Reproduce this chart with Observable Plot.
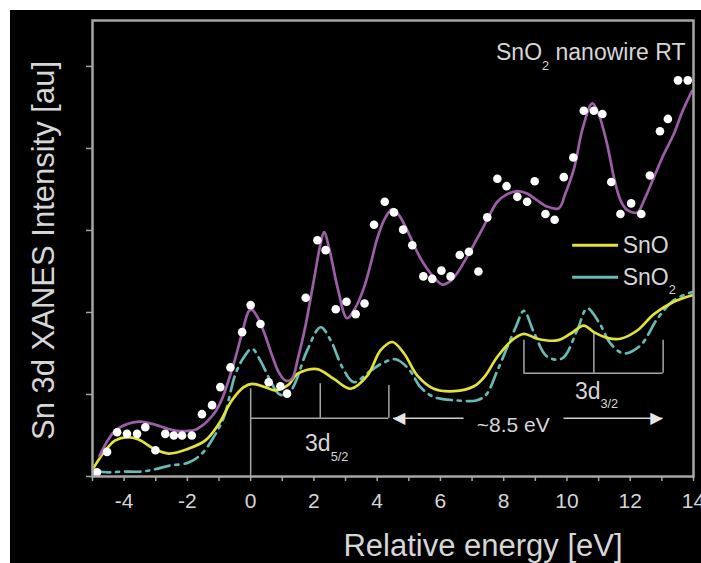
<!DOCTYPE html>
<html>
<head>
<meta charset="utf-8">
<script src="https://cdn.jsdelivr.net/npm/d3@7"></script>
<script src="https://cdn.jsdelivr.net/npm/@observablehq/plot@0.6"></script>
<style>
  html, body { margin: 0; padding: 0; background: #fff; overflow: hidden; }
  #chart { position: absolute; left: 10px; top: 10px; width: 691px; height: 553px; background: #000; }
</style>
</head>
<body>
<div id="chart"></div>
<script>
// ---- data ----
const fitCurve = [[-4.78,0.25],[-4.5,0.45],[-4.28,0.56],[-3.9,0.64],[-3.54,0.67],[-3.2,0.65],[-3.0,0.63],[-2.6,0.58],[-2.38,0.56],[-2.0,0.555],[-1.75,0.57],[-1.5,0.63],[-1.33,0.69],[-1.1,0.8],[-0.91,0.94],[-0.7,1.17],[-0.48,1.45],[-0.25,1.78],[-0.05,2.02],[0.05,2.03],[0.25,1.92],[0.46,1.72],[0.7,1.45],[0.89,1.27],[1.1,1.17],[1.3,1.19],[1.5,1.45],[1.74,1.85],[2.0,2.4],[2.2,2.82],[2.32,2.98],[2.5,2.75],[2.75,2.3],[3.05,1.93],[3.3,2.05],[3.58,2.3],[3.8,2.6],[4.0,2.9],[4.25,3.15],[4.48,3.26],[4.7,3.18],[4.95,3.0],[5.37,2.66],[5.79,2.43],[6.06,2.34],[6.3,2.38],[6.53,2.48],[6.8,2.65],[7.06,2.83],[7.3,3.0],[7.53,3.17],[7.8,3.35],[8.1,3.44],[8.43,3.48],[8.74,3.45],[9.05,3.37],[9.38,3.29],[9.74,3.27],[9.95,3.45],[10.22,3.75],[10.5,4.25],[10.8,4.55],[11.0,4.42],[11.27,4.05],[11.5,3.62],[11.69,3.37],[11.9,3.25],[12.22,3.22],[12.45,3.38],[12.75,3.65],[13.05,3.92],[13.38,4.18],[13.65,4.45],[13.95,4.7]];

const nanowireDots = [[-4.86,0.05],[-4.54,0.3],[-4.22,0.54],[-3.91,0.52],[-3.59,0.52],[-3.33,0.6],[-3.01,0.32],[-2.7,0.52],[-2.43,0.5],[-2.17,0.5],[-1.86,0.5],[-1.54,0.76],[-1.22,0.87],[-0.96,1.09],[-0.64,1.33],[-0.27,1.76],[0.0,2.09],[0.31,1.86],[0.57,1.15],[0.94,1.1],[1.15,1.01],[1.74,2.18],[2.11,2.88],[2.37,2.76],[2.69,2.04],[3.03,2.13],[3.32,1.98],[3.6,2.11],[3.9,3.07],[4.24,3.35],[4.53,3.22],[4.82,3.01],[5.11,2.82],[5.46,2.44],[5.74,2.41],[6.03,2.51],[6.32,2.44],[6.61,2.7],[6.9,2.74],[7.2,2.5],[7.48,3.16],[7.8,3.63],[8.09,3.54],[8.43,3.41],[8.74,3.35],[8.98,3.6],[9.32,3.2],[9.61,3.13],[9.9,3.65],[10.2,3.89],[10.53,4.46],[10.85,4.46],[11.12,4.42],[11.4,3.59],[11.69,3.2],[12.03,3.33],[12.35,3.2],[12.62,3.67],[12.94,4.21],[13.19,4.36],[13.51,4.83],[13.82,4.83]];

const snoCurve = [[-4.96,0.11],[-4.59,0.32],[-4.28,0.44],[-3.91,0.48],[-3.54,0.45],[-3.07,0.34],[-2.59,0.28],[-1.96,0.34],[-1.43,0.44],[-1.01,0.64],[-0.59,0.93],[-0.22,1.09],[0.04,1.13],[0.46,1.09],[0.78,1.05],[1.2,1.12],[1.47,1.25],[2.1,1.31],[2.63,1.19],[3.16,1.07],[3.69,1.23],[4.11,1.54],[4.48,1.64],[4.85,1.5],[5.27,1.23],[5.79,1.07],[6.43,1.04],[7.06,1.1],[7.4,1.22],[7.8,1.46],[8.32,1.68],[8.64,1.74],[9.06,1.68],[9.69,1.66],[10.11,1.74],[10.53,1.84],[10.85,1.76],[11.27,1.69],[11.69,1.68],[12.22,1.78],[12.75,1.98],[13.38,2.13],[13.96,2.21]];

const sno2Curve = [[-4.91,0.07],[-4.49,0.05],[-4.07,0.06],[-3.44,0.06],[-3.01,0.09],[-2.59,0.13],[-1.96,0.17],[-1.54,0.28],[-1.17,0.48],[-0.85,0.72],[-0.48,1.25],[-0.22,1.45],[0.04,1.56],[0.31,1.41],[0.62,1.17],[0.88,1.01],[1.15,0.99],[1.37,1.11],[1.79,1.54],[2.21,1.82],[2.53,1.66],[2.9,1.33],[3.26,1.15],[3.79,1.29],[4.21,1.39],[4.58,1.43],[5.0,1.31],[5.37,1.09],[5.79,0.97],[6.43,0.93],[7.16,0.93],[7.45,1.0],[7.8,1.29],[8.38,1.82],[8.64,2.02],[8.95,1.76],[9.38,1.46],[9.85,1.44],[10.32,1.78],[10.64,2.05],[11.01,1.88],[11.38,1.62],[11.8,1.5],[12.33,1.6],[12.85,1.92],[13.38,2.15],[13.96,2.25]];

const xTicks = [-5,-4,-3,-2,-1,0,1,2,3,4,5,6,7,8,9,10,11,12,13,14];
const yTicks = [0,1,2,3,4,5];

// annotation values (energy, intensity)
const d52Lines = [[0,0,1.07],[2.2,0.71,1.13],[4.37,0.71,1.11]];   // x, from, to
const d52Bar = [0, 4.37, 0.71];                                  // x1, x2, y
const d32Lines = [[8.64,1.26,1.66],[10.85,1.26,1.76],[13.04,1.26,1.66]];
const d32Bar = [8.64, 13.04, 1.26];
const splitArrows = [[6.73,4.5,0.71,"◀"],[9.89,13.02,0.71,"▶"]];  // from, to, y, head
const bandLabels = [
  {text: "3d_{5/2}", x: 1.72, y: 0.40},
  {text: "3d_{3/2}", x: 10.25, y: 1.04}
];
const gapLabel = {text: "~8.5 eV", x: 8.3, y: 0.62};
const legendItems = [
  {name: "SnO", y: 2.82, stroke: "#e2e23a", dash: null},
  {name: "SnO_{2}", y: 2.43, stroke: "#68bab6", dash: "23,10,3,30"}
];
const legendLineX = [10.18, 11.63];
const legendTextX = 11.76;

const C_FIT = "#9c5ea6", C_SNO = "#e2e23a", C_SNO2 = "#68bab6", C_AX = "#a6a6a6", C_TXT = "#d6d6d6";
const X = d => d[0], Y = d => d[1];

const plot = Plot.plot({
  width: 691, height: 553,
  marginLeft: 82, marginRight: 8, marginTop: 10, marginBottom: 87,
  x: {domain: [-5, 14]},
  y: {domain: [0, 5.56]},
  style: {background: "#000", color: C_TXT, fontFamily: "'Liberation Sans', Arial, sans-serif", overflow: "visible"},
  marks: [
    Plot.axisX({ticks: xTicks, tickFormat: d => (d % 2 === 0 ? String(d) : ""), tickSize: 5, tickPadding: 12, fontSize: 21, stroke: C_AX, fill: C_TXT, strokeWidth: 1.5, label: null}),
    Plot.axisY({ticks: yTicks, tickFormat: () => "", tickSize: 6, stroke: C_AX, strokeWidth: 1.5, label: null}),
    // brackets and arrow
    Plot.ruleX(d52Lines, {x: d => d[0], y1: d => d[1], y2: d => d[2], stroke: C_AX, strokeWidth: 1.5}),
    Plot.ruleY([d52Bar], {x1: d => d[0], x2: d => d[1], y: d => d[2], stroke: C_AX, strokeWidth: 1.5}),
    Plot.ruleX(d32Lines, {x: d => d[0], y1: d => d[1], y2: d => d[2], stroke: C_AX, strokeWidth: 1.5}),
    Plot.ruleY([d32Bar], {x1: d => d[0], x2: d => d[1], y: d => d[2], stroke: C_AX, strokeWidth: 1.5}),
    Plot.link(splitArrows, {x1: d => d[0], x2: d => d[1], y1: d => d[2], y2: d => d[2], stroke: "#cfcfcf", strokeWidth: 1.5}),
    Plot.text(splitArrows.slice(0, 1), {x: d => d[1], y: d => d[2], text: d => d[3], textAnchor: "start", fontSize: 16, fill: "#e6e6e6", fontFamily: "DejaVu Sans"}),
    Plot.text(splitArrows.slice(1), {x: d => d[1], y: d => d[2], text: d => d[3], textAnchor: "end", fontSize: 16, fill: "#e6e6e6", fontFamily: "DejaVu Sans"}),
    // spectra
    Plot.line(sno2Curve, {x: X, y: Y, stroke: C_SNO2, strokeWidth: 2.7, strokeDasharray: "15,6,3,6", curve: "catmull-rom"}),
    Plot.line(snoCurve, {x: X, y: Y, stroke: C_SNO, strokeWidth: 2.7, curve: "catmull-rom"}),
    Plot.line(fitCurve, {x: X, y: Y, stroke: C_FIT, strokeWidth: 2.7, curve: "catmull-rom"}),
    Plot.dot(nanowireDots, {x: X, y: Y, r: 4.3, fill: "#ffffff", stroke: "none"}),
    Plot.frame({stroke: C_AX, strokeWidth: 2.5}),
    // annotations
    Plot.text(bandLabels, {x: "x", y: "y", text: "text", fontSize: 23, textAnchor: "start", fill: C_TXT}),
    Plot.text([gapLabel], {x: "x", y: "y", text: "text", fontSize: 21, textAnchor: "middle", fill: C_TXT}),
    // legend
    Plot.ruleY(legendItems, {x1: legendLineX[0], x2: legendLineX[1], y: "y", stroke: "stroke", strokeDasharray: d => d.dash, strokeWidth: 3}),
    Plot.text(legendItems, {x: legendTextX, y: "y", text: "name", fontSize: 23, textAnchor: "start", fill: C_TXT}),
    // title and axis labels
    Plot.text(["SnO_{2} nanowire RT"], {text: d => d, frameAnchor: "top-right", textAnchor: "end", lineAnchor: "middle", dx: -8, dy: 32, fontSize: 23, fill: C_TXT}),
    Plot.text(["Relative energy [eV]"], {text: d => d, frameAnchor: "bottom", textAnchor: "middle", lineAnchor: "middle", dx: 90, dy: 70, fontSize: 31, fill: C_TXT}),
    Plot.text(["Sn 3d XANES Intensity [au]"], {text: d => d, frameAnchor: "left", textAnchor: "middle", lineAnchor: "middle", rotate: -90, dx: -48, dy: 2, fontSize: 31, fill: C_TXT})
  ]
});

document.getElementById("chart").appendChild(plot);

// typeset subscripts written as _{...}
const NS = "http://www.w3.org/2000/svg";
plot.querySelectorAll("text").forEach(t => {
  if (t.children.length) return;
  const m = t.textContent.match(/^(.*?)_\{(.*?)\}(.*)$/);
  if (!m) return;
  const fs = parseFloat(getComputedStyle(t).fontSize) || 20;
  t.textContent = "";
  const a = document.createElementNS(NS, "tspan"); a.textContent = m[1]; t.appendChild(a);
  const b = document.createElementNS(NS, "tspan"); b.textContent = m[2];
  b.setAttribute("font-size", (fs * 0.55).toFixed(1)); b.setAttribute("dy", (fs * 0.42).toFixed(1)); t.appendChild(b);
  if (m[3]) { const c = document.createElementNS(NS, "tspan"); c.textContent = m[3]; c.setAttribute("dy", (-fs * 0.42).toFixed(1)); t.appendChild(c); }
});
</script>
</body>
</html>
